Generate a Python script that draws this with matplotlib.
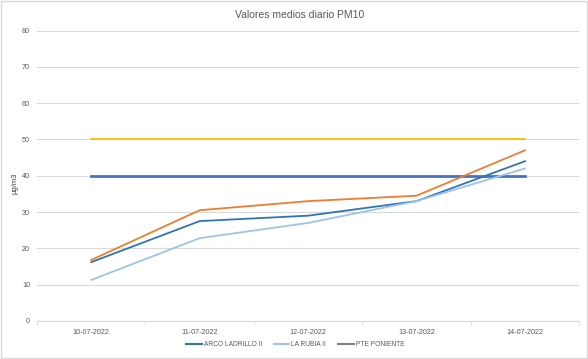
import matplotlib
matplotlib.use("Agg")
import matplotlib.pyplot as plt
from matplotlib.lines import Line2D
from matplotlib.patches import Rectangle

plt.rcParams['font.family'] = ['Liberation Sans', 'DejaVu Sans']

dates = ["10-07-2022", "11-07-2022", "12-07-2022", "13-07-2022", "14-07-2022"]
arco = [16.2, 27.5, 29.0, 33.0, 44.0]
rubia = [11.3, 22.8, 27.0, 33.0, 42.0]
poniente = [16.8, 30.5, 33.0, 34.5, 47.0]
limit_50 = [50, 50, 50, 50, 50]
limit_40 = [40, 40, 40, 40, 40]
legend_names = ["ARCO LADRILLO II", "LA RUBIA II", "PTE PONIENTE"]
legend_colors = ["#2E75B6", "#9DC3E6", "#7F7F7F"]

fig = plt.figure(figsize=(5.88, 3.59), dpi=100)
fig.patches.append(Rectangle((0.002, 0.003), 0.996, 0.994, transform=fig.transFigure,
                             fill=False, edgecolor="#D9D9D9", linewidth=1))
ax = fig.add_axes([0.063, 0.106, 0.922, 0.809])

x = list(range(len(dates)))
ax.plot(x, limit_50, color="#FFC000", linewidth=1.3, zorder=3)
ax.plot(x, limit_40, color="#4472C4", linewidth=2.0, zorder=3)
ax.plot(x, poniente, color="#ED7D31", linewidth=1.3, zorder=4)
ax.plot(x, arco, color="#2E75B6", linewidth=1.3, zorder=4)
ax.plot(x, rubia, color="#9DC3E6", linewidth=1.3, zorder=4)

ax.set_xlim(-0.5, len(dates) - 0.5)
ax.set_ylim(0, 80)
ax.set_yticks(range(0, 81, 10))
ax.set_xticks(x)
ax.set_xticklabels(dates)
ax.set_xticks([i + 0.5 for i in range(-1, len(dates))], minor=True)
ax.tick_params(axis='x', which='major', length=0, labelsize=5.2, colors="#595959", pad=6)
ax.tick_params(axis='x', which='minor', length=3, color="#D9D9D9")
ax.tick_params(axis='y', length=0, labelsize=5.2, colors="#595959", pad=5)
ax.grid(axis='y', color="#D9D9D9", linewidth=0.8)
ax.set_axisbelow(True)
for s in ["top", "right", "left"]:
    ax.spines[s].set_visible(False)
ax.spines["bottom"].set_color("#D9D9D9")

fig.text(0.51, 0.958, "Valores medios diario PM10", fontsize=7.5, color="#595959",
         ha="center", va="center")
fig.text(0.026, 0.49, "µg/m3", rotation=90, fontsize=5.5, color="#404040",
         ha="center", va="center")

handles = [Line2D([0], [0], color=c, linewidth=1.5) for c in legend_colors]
fig.legend(handles, legend_names, loc="center", bbox_to_anchor=(0.502, 0.04),
           ncol=3, frameon=False, fontsize=4.8, labelcolor="#595959",
           handlelength=2.3, columnspacing=1.8, handletextpad=0.3)

fig.savefig("out.png", dpi=100)
